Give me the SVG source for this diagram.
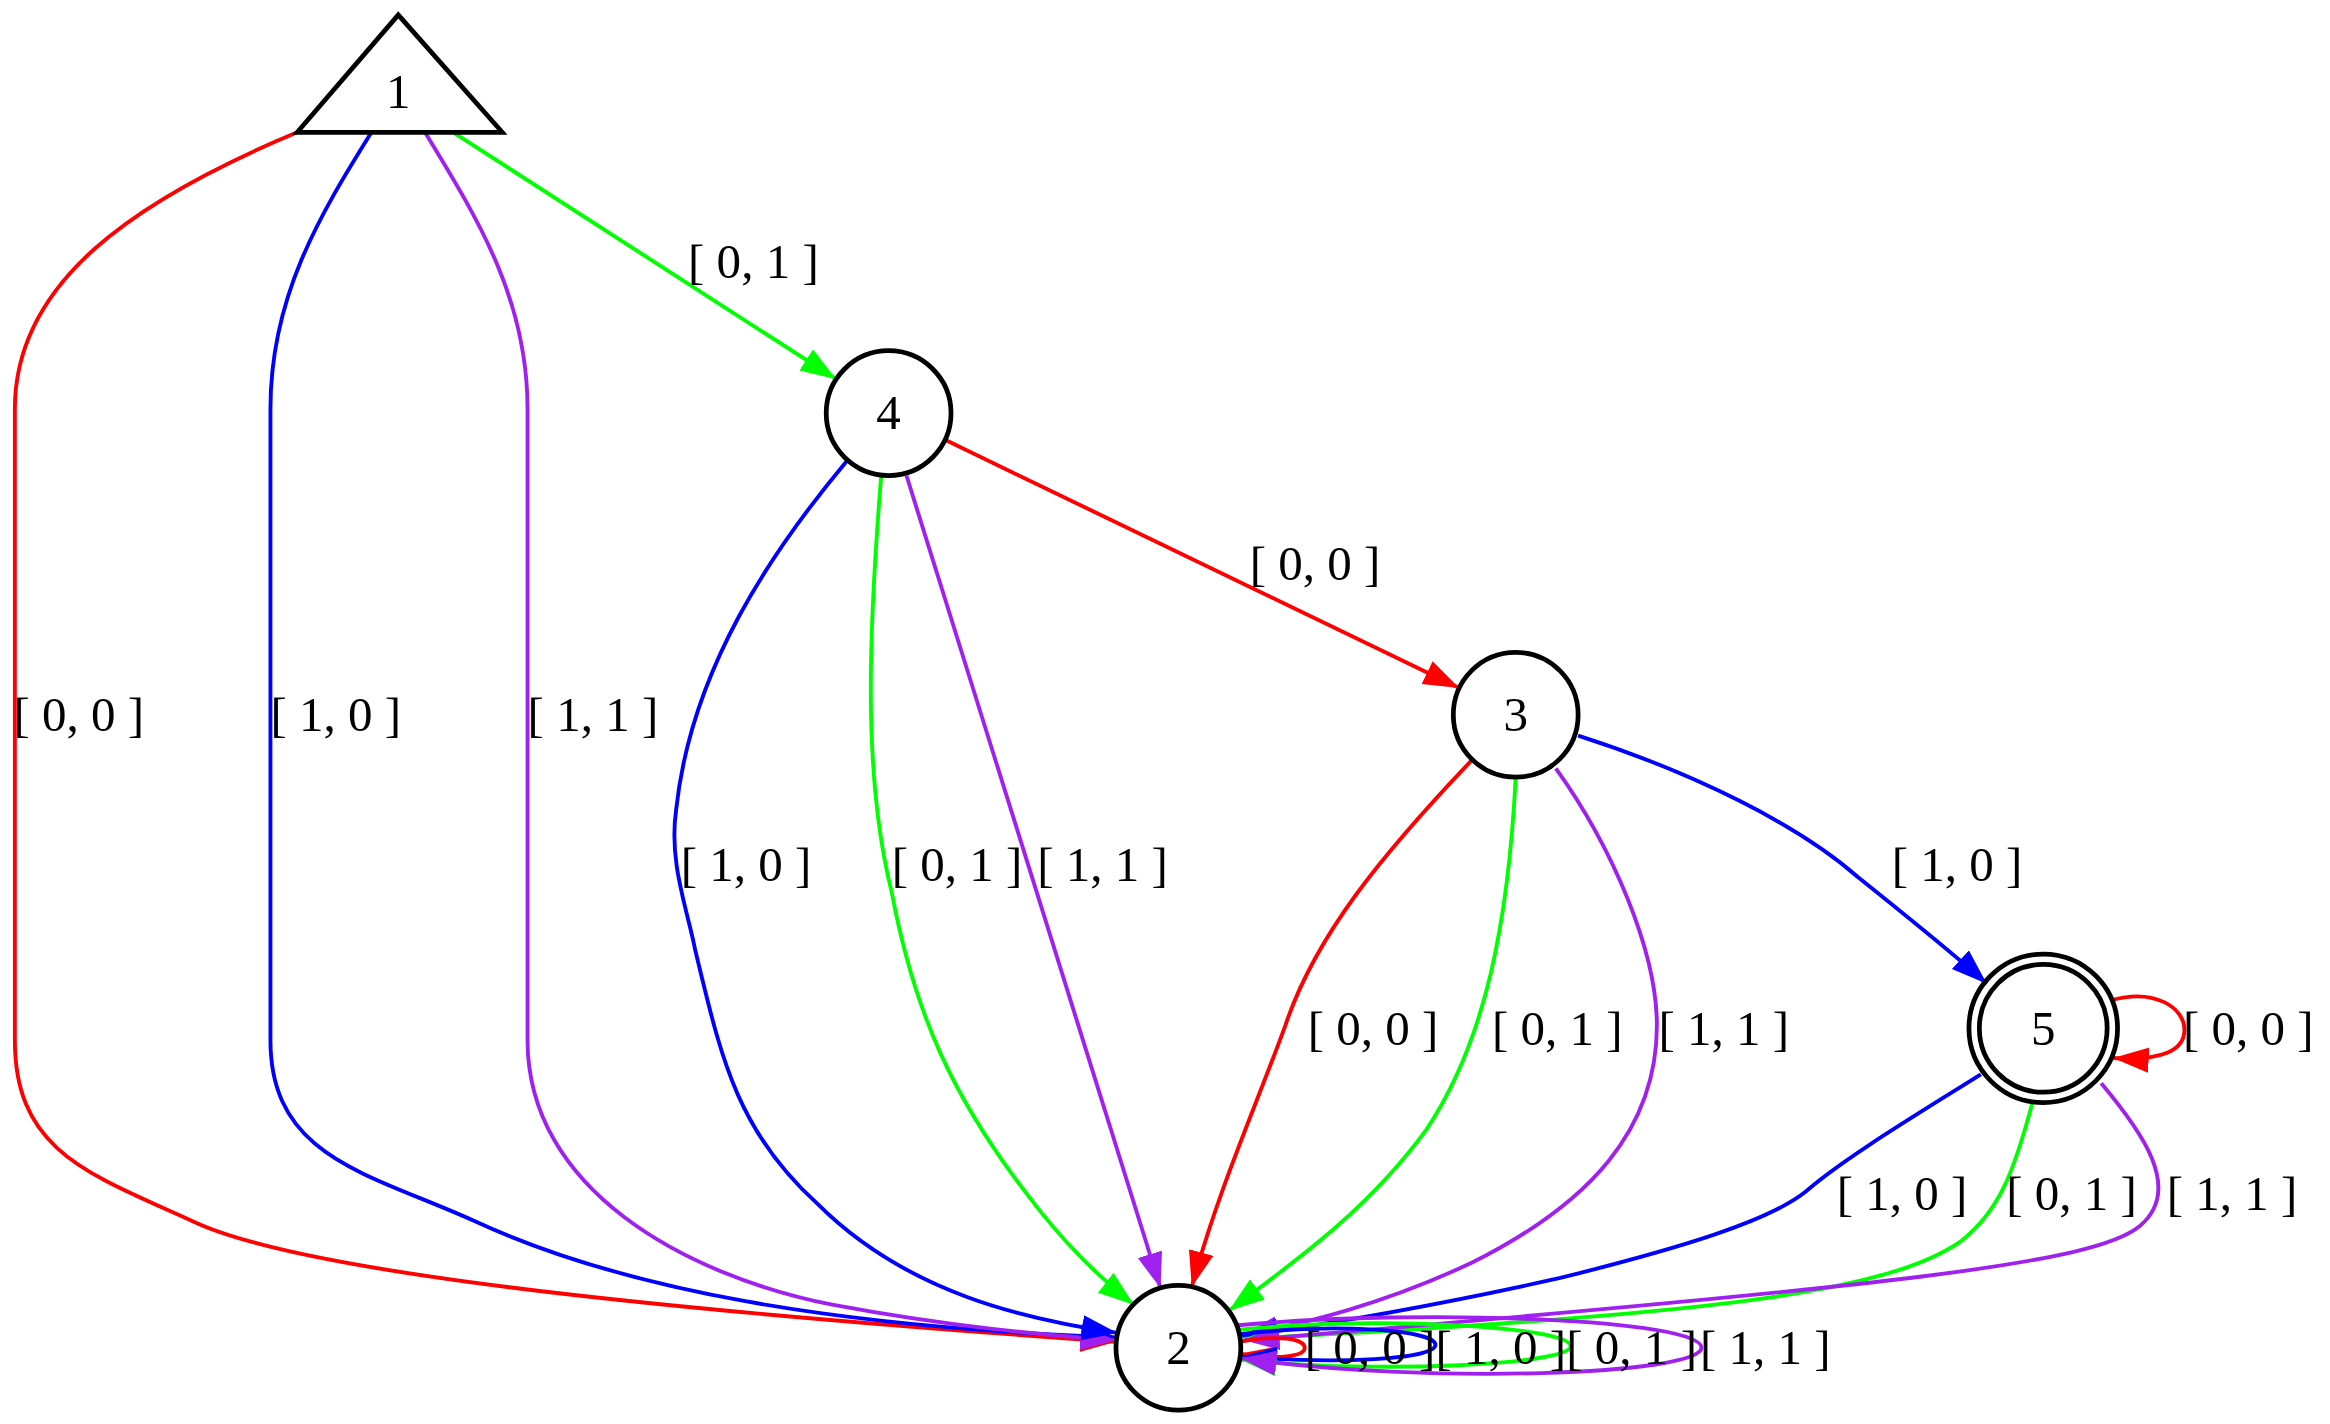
<svg xmlns="http://www.w3.org/2000/svg" width="2330" height="1424" viewBox="0 0 2330 1424">
<style>
.n{fill:none;stroke:#000;stroke-width:3.2}
.t{font-family:"Liberation Serif","Times New Roman",serif;font-size:33px;text-anchor:middle;fill:#000}
.e{fill:none;stroke-width:2.6}
.r{stroke:#ff0000}.b{stroke:#0000ff}.g{stroke:#00ff00}.p{stroke:#a020f0}
</style>
<defs>
<marker id="ar" markerUnits="userSpaceOnUse" markerWidth="26" markerHeight="18" refX="24" refY="8.5" orient="auto"><path d="M0,0 L24,8.5 L0,17 z" fill="#ff0000"/></marker>
<marker id="ab" markerUnits="userSpaceOnUse" markerWidth="26" markerHeight="18" refX="24" refY="8.5" orient="auto"><path d="M0,0 L24,8.5 L0,17 z" fill="#0000ff"/></marker>
<marker id="ag" markerUnits="userSpaceOnUse" markerWidth="26" markerHeight="18" refX="24" refY="8.5" orient="auto"><path d="M0,0 L24,8.5 L0,17 z" fill="#00ff00"/></marker>
<marker id="ap" markerUnits="userSpaceOnUse" markerWidth="26" markerHeight="18" refX="24" refY="8.5" orient="auto"><path d="M0,0 L24,8.5 L0,17 z" fill="#a020f0"/></marker>
</defs>
<rect width="2330" height="1424" fill="#fff"/>
<g transform="scale(1.486)">
<g id="connectors">
<path class="e r" marker-end="url(#ar)" d="M200,89 C90,135 10,190 10,275 L10,700 C10,775 60,790 130,822 C200,855 420,880 751,903"/>
<path class="e b" marker-end="url(#ab)" d="M250,89 C215,145 182,200 182,275 L182,700 C182,780 250,790 320,822 C420,868 560,893 752,900"/>
<path class="e p" marker-end="url(#ap)" d="M286,89 C320,145 355,200 355,275 L355,700 C355,800 460,858 560,878 C640,893 700,898 751,902"/>
<path class="e g" marker-end="url(#ag)" d="M305,89 L562.7,255.2"/>
<path class="e r" marker-end="url(#ar)" d="M636,296 L982,463"/>
<path class="e b" marker-end="url(#ab)" d="M570,310 C520,370 465,450 455,545 C450,580 462,610 468,640 C485,710 495,760 550,810 C610,870 690,888 752,897"/>
<path class="e g" marker-end="url(#ag)" d="M593,320 C585,420 580,520 600,600 C615,680 640,740 700,815 C720,840 740,860 763,878"/>
<path class="e p" marker-end="url(#ap)" d="M610,320 L781,867"/>
<path class="e r" marker-end="url(#ar)" d="M990,512 C930,575 885,630 865,690 C845,745 820,800 802,866"/>
<path class="e g" marker-end="url(#ag)" d="M1020,523 C1015,620 1000,700 960,760 C920,815 870,850 827,882"/>
<path class="e p" marker-end="url(#ap)" d="M1047,517 C1085,570 1115,640 1115,690 C1115,760 1070,810 990,850 C930,878 880,890 836,899"/>
<path class="e b" marker-end="url(#ab)" d="M1062,495 C1140,520 1210,555 1250,590 C1290,622 1315,642 1337,662"/>
<path class="e r" marker-end="url(#ar)" d="M1421,673 C1450,665 1470,678 1470,693 C1470,707 1455,714 1422,712"/>
<path class="e b" marker-end="url(#ab)" d="M1333,723 C1290,750 1240,780 1215,802 C1190,822 1130,840 1050,860 C960,880 880,893 836,899"/>
<path class="e g" marker-end="url(#ag)" d="M1368,741 C1355,790 1345,815 1320,835 C1270,870 1150,885 837,901"/>
<path class="e p" marker-end="url(#ap)" d="M1414,729 C1440,760 1470,800 1440,825 C1410,850 1280,865 837,902"/>
<path class="e r" marker-end="url(#ar)" d="M834,903 C860,898 878,901 878,907 C878,913 860,915 834,911"/>
<path class="e b" marker-end="url(#ab)" d="M833,898 C900,890 966,895 966,905 C966,915 900,918 835,913"/>
<path class="e g" marker-end="url(#ag)" d="M832,895 C930,885 1057,893 1057,906 C1057,918 930,925 835,915"/>
<path class="e p" marker-end="url(#ap)" d="M831,892 C960,880 1145,888 1145,907 C1145,925 960,932 835,914"/>
<text class="t" x="507" y="187">[ 0, 1 ]</text>
<text class="t" x="53" y="492">[ 0, 0 ]</text>
<text class="t" x="226" y="492">[ 1, 0 ]</text>
<text class="t" x="399" y="492">[ 1, 1 ]</text>
<text class="t" x="885" y="390">[ 0, 0 ]</text>
<text class="t" x="502" y="593">[ 1, 0 ]</text>
<text class="t" x="644" y="593">[ 0, 1 ]</text>
<text class="t" x="742" y="593">[ 1, 1 ]</text>
<text class="t" x="1317" y="593">[ 1, 0 ]</text>
<text class="t" x="924" y="703">[ 0, 0 ]</text>
<text class="t" x="1048" y="703">[ 0, 1 ]</text>
<text class="t" x="1160" y="703">[ 1, 1 ]</text>
<text class="t" x="1513" y="703">[ 0, 0 ]</text>
<text class="t" x="1280" y="814">[ 1, 0 ]</text>
<text class="t" x="1394" y="814">[ 0, 1 ]</text>
<text class="t" x="1502" y="814">[ 1, 1 ]</text>
<text class="t" x="922" y="918">[ 0, 0 ]</text>
<text class="t" x="1010" y="918">[ 1, 0 ]</text>
<text class="t" x="1098" y="918">[ 0, 1 ]</text>
<text class="t" x="1188" y="918">[ 1, 1 ]</text>
</g>
<g id="node1"><polygon class="n" points="268,10 338,89 200,89"/><text class="t" x="268" y="73">1</text></g>
<g id="node4"><circle class="n" cx="598" cy="278" r="42"/><text class="t" x="598" y="289">4</text></g>
<g id="node3"><circle class="n" cx="1020" cy="481" r="42"/><text class="t" x="1020" y="492">3</text></g>
<g id="node5"><circle class="n" cx="1375" cy="692" r="50"/><circle class="n" cx="1375" cy="692" r="43"/><text class="t" x="1375" y="703">5</text></g>
<g id="node2"><circle class="n" cx="793" cy="907" r="42"/><text class="t" x="793" y="918">2</text></g>
</g>
</svg>
